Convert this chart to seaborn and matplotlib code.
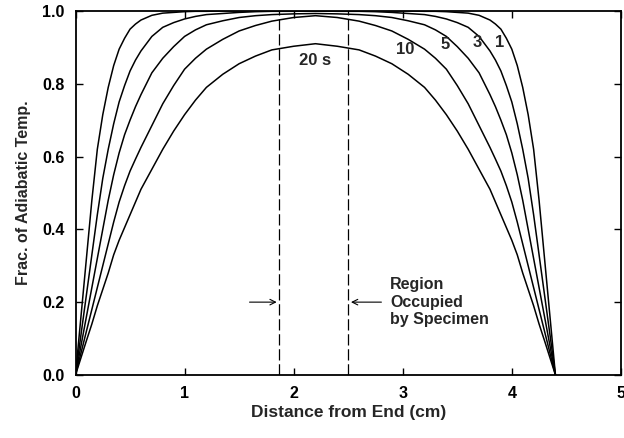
import numpy as np
import pandas as pd
import seaborn as sns
import matplotlib
matplotlib.use("Agg")
import matplotlib.pyplot as plt

# distance from end (cm), shared by every curve
distance = [0, 0.05, 0.1, 0.15, 0.2, 0.25, 0.3, 0.35, 0.4, 0.45, 0.5, 0.55, 0.6, 0.7, 0.8, 0.9,
            1.0, 1.1, 1.2, 1.35, 1.5, 1.65, 1.8, 2.0,
            2.2,
            2.4, 2.6, 2.75, 2.9, 3.05, 3.2, 3.3, 3.4, 3.5, 3.6, 3.7, 3.8, 3.85, 3.9, 3.95,
            4.0, 4.05, 4.1, 4.15, 4.2, 4.25, 4.3, 4.35, 4.4]

# fraction of adiabatic temperature
frac_1s = [0, 0.16, 0.32, 0.48, 0.62, 0.715, 0.79, 0.85, 0.895, 0.925, 0.95, 0.964, 0.975, 0.988, 0.994, 0.996,
           0.998, 0.999, 0.999, 1.0, 1.0, 1.0, 1.0, 1.0,
           1.0,
           1.0, 1.0, 1.0, 1.0, 1.0, 0.999, 0.999, 0.998, 0.996, 0.994, 0.988, 0.975, 0.964, 0.95, 0.925,
           0.895, 0.85, 0.79, 0.715, 0.62, 0.48, 0.32, 0.16, 0]
frac_3s = [0, 0.11, 0.22, 0.33, 0.44, 0.54, 0.62, 0.69, 0.75, 0.795, 0.835, 0.865, 0.89, 0.93, 0.955, 0.968,
           0.978, 0.985, 0.99, 0.993, 0.996, 0.998, 0.999, 0.999,
           1.0,
           0.999, 0.999, 0.998, 0.996, 0.993, 0.99, 0.985, 0.978, 0.968, 0.955, 0.93, 0.89, 0.865, 0.835, 0.795,
           0.75, 0.69, 0.62, 0.54, 0.44, 0.33, 0.22, 0.11, 0]
frac_5s = [0, 0.08, 0.16, 0.24, 0.32, 0.40, 0.48, 0.55, 0.61, 0.66, 0.70, 0.737, 0.77, 0.83, 0.87, 0.902,
           0.93, 0.948, 0.962, 0.973, 0.982, 0.987, 0.99, 0.992,
           0.993,
           0.992, 0.99, 0.987, 0.982, 0.973, 0.962, 0.948, 0.93, 0.902, 0.87, 0.83, 0.77, 0.737, 0.70, 0.66,
           0.61, 0.55, 0.48, 0.40, 0.32, 0.24, 0.16, 0.08, 0]
frac_10s = [0, 0.06, 0.12, 0.18, 0.24, 0.30, 0.36, 0.42, 0.475, 0.52, 0.56, 0.593, 0.625, 0.685, 0.745, 0.795,
            0.84, 0.87, 0.895, 0.922, 0.945, 0.96, 0.972, 0.982,
            0.987,
            0.982, 0.972, 0.96, 0.945, 0.922, 0.895, 0.87, 0.84, 0.795, 0.745, 0.685, 0.625, 0.593, 0.56, 0.52,
            0.475, 0.42, 0.36, 0.30, 0.24, 0.18, 0.12, 0.06, 0]
frac_20s = [0, 0.047, 0.094, 0.14, 0.19, 0.235, 0.28, 0.33, 0.37, 0.405, 0.44, 0.475, 0.51, 0.565, 0.62, 0.67,
            0.715, 0.755, 0.79, 0.826, 0.855, 0.876, 0.893, 0.903,
            0.91,
            0.903, 0.893, 0.876, 0.855, 0.826, 0.79, 0.755, 0.715, 0.67, 0.62, 0.565, 0.51, 0.475, 0.44, 0.405,
            0.37, 0.33, 0.28, 0.235, 0.19, 0.14, 0.094, 0.047, 0]

times = ["1", "3", "5", "10", "20 s"]
curve_labels = {"1": (3.89, 0.912), "3": (3.68, 0.912), "5": (3.39, 0.907), "10": (3.02, 0.893), "20 s": (2.2, 0.865)}

# specimen region edges
region = [1.87, 2.50]

df = pd.concat([
    pd.DataFrame({"x": distance, "y": vals, "time": t})
    for t, vals in zip(times, [frac_1s, frac_3s, frac_5s, frac_10s, frac_20s])
])

sns.set_style("ticks")
plt.rcParams["font.family"] = ["Liberation Sans", "DejaVu Sans"]
plt.rcParams["font.weight"] = "bold"

fig = plt.figure(figsize=(6.24, 4.38), dpi=100)
ax = fig.add_axes([0.121, 0.144, 0.874, 0.831])

sns.lineplot(data=df, x="x", y="y", hue="time", palette=["black"] * 5, linewidth=1.1,
             legend=False, sort=False, estimator=None, ax=ax)

for xr in region:
    ax.axvline(xr, color="black", lw=0.9, ls=(0, (9, 3)))

ax.annotate("", xy=(region[0], 0.2), xytext=(1.57, 0.2),
            arrowprops=dict(arrowstyle="->", color="black", lw=0.8))
ax.annotate("", xy=(region[1], 0.2), xytext=(2.83, 0.2),
            arrowprops=dict(arrowstyle="->", color="black", lw=0.8))
ax.text(2.885, 0.2, "Region\nOccupied\nby Specimen", fontsize=11.5, fontweight="bold",
        va="center", ha="left", linespacing=1.2)

for t, (lx, ly) in curve_labels.items():
    ax.text(lx, ly, t, fontsize=12, fontweight="bold", ha="center", va="center")

ax.set_xlim(0, 5)
ax.set_ylim(0, 1)
ax.set_xticks([0, 1, 2, 3, 4, 5])
ax.set_yticks([0, 0.2, 0.4, 0.6, 0.8, 1.0])
ax.set_yticklabels(["0.0", "0.2", "0.4", "0.6", "0.8", "1.0"])
ax.tick_params(direction="in", length=5, width=1, top=True, right=True,
               labelsize=11.5, colors="black", pad=8)
for lab in ax.get_xticklabels() + ax.get_yticklabels():
    lab.set_fontweight("bold")
for sp in ax.spines.values():
    sp.set_linewidth(1.3)
    sp.set_color("black")

ax.set_xlabel("Distance from End (cm)", fontsize=12.5, fontweight="bold", labelpad=3)
ax.set_ylabel("Frac. of Adiabatic Temp.", fontsize=11.5, fontweight="bold", labelpad=8)

fig.savefig("out.png", dpi=100)
